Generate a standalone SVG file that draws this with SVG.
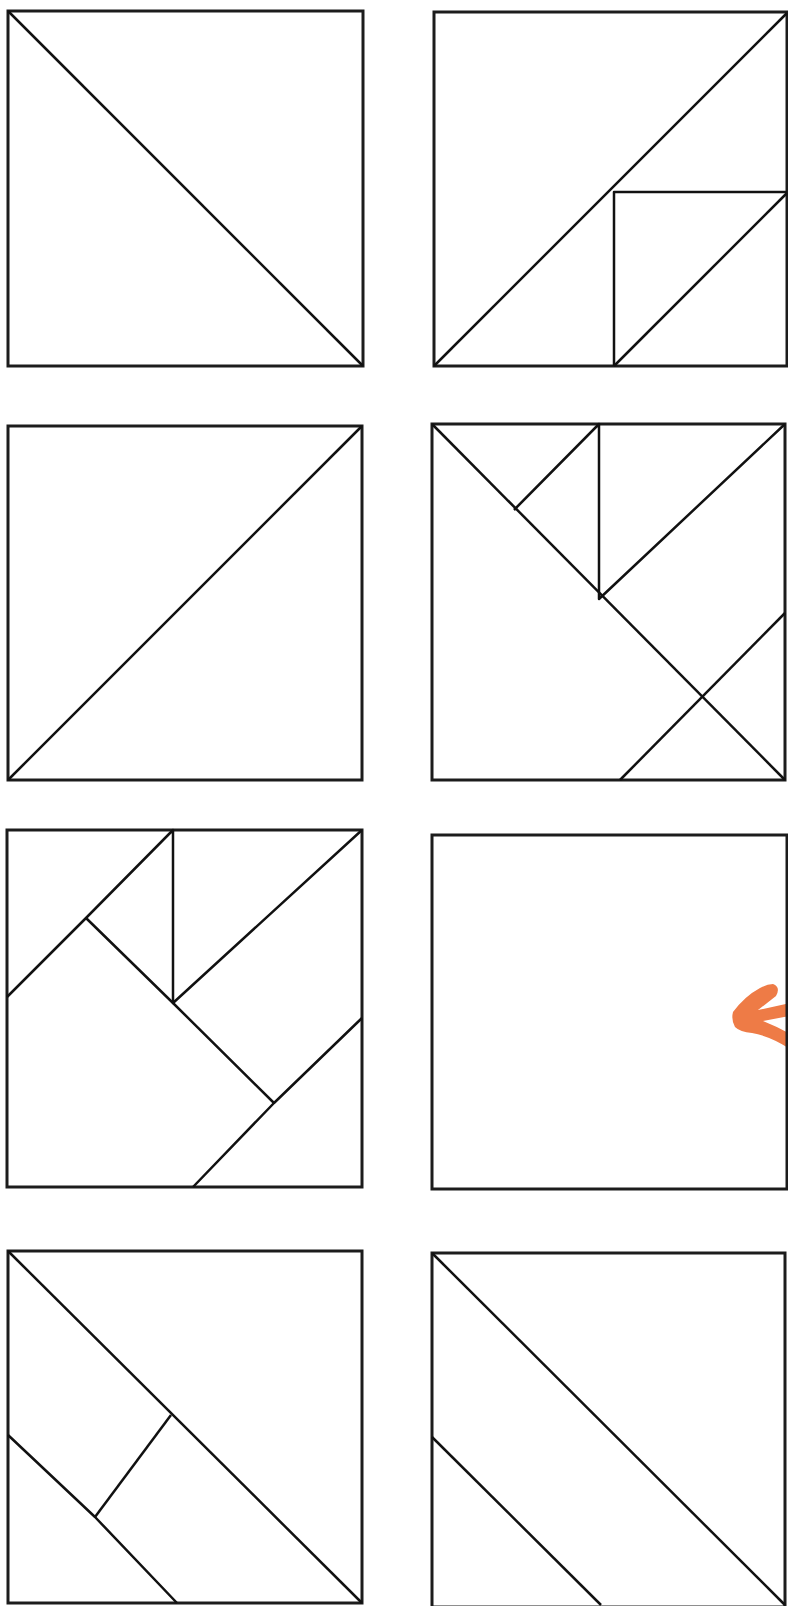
<svg xmlns="http://www.w3.org/2000/svg" width="788" height="1606" viewBox="0 0 788 1606">
<style>
.frame{fill:none;stroke:#1c1c1c;stroke-width:3}
.ln{fill:none;stroke:#111;stroke-width:2.5;stroke-linejoin:round}
.arrow{fill:#EE7B46;stroke:none}
</style>
<rect width="788" height="1606" fill="#fff"/>
<g id="sq1">
<rect class="frame" x="8" y="11" width="355" height="355"/>
<path class="ln" d="M8 11 L363 366"/>
</g>
<g id="sq2">
<rect class="frame" x="434" y="12" width="353" height="354"/>
<path class="ln" d="M434 366 L787 13"/>
<path class="ln" d="M614 366 L614 192 L787 192"/>
<path class="ln" d="M614 366 L787 193"/>
</g>
<g id="sq3">
<rect class="frame" x="8" y="426" width="354" height="354"/>
<path class="ln" d="M8 780 L362 426"/>
</g>
<g id="sq4">
<rect class="frame" x="432" y="424" width="353" height="356"/>
<path class="ln" d="M432 424 L785 780"/>
<path class="ln" d="M514 510 L599 424 L599 599 L785 424"/>
<path class="ln" d="M620 780 L785 613"/>
</g>
<g id="sq5">
<rect class="frame" x="7" y="830" width="355" height="357"/>
<path class="ln" d="M7 997 L86 918 L173 830 L173 1003 L362 830"/>
<path class="ln" d="M86 918 L173 1003 L274 1103"/>
<path class="ln" d="M193 1187 L274 1103 L362 1018"/>
</g>
<g id="sq6">
<path class="arrow" d="M773 984 Q781 987 776 996 L758 1010 L790 1003 L790 1016 L763 1021 Q778 1027 790 1034 L790 1049 Q770 1036 752 1033 Q740 1032 735 1027 Q731 1020 733 1012 Q745 996 760 988 Q767 984 773 984 Z"/>
<rect class="frame" x="432" y="835" width="355" height="354"/>
</g>
<g id="sq7">
<rect class="frame" x="8" y="1251" width="354" height="352"/>
<path class="ln" d="M8 1251 L362 1603"/>
<path class="ln" d="M8 1435 L95 1517 L177 1603"/>
<path class="ln" d="M95 1517 L171 1415"/>
</g>
<g id="sq8">
<rect class="frame" x="432" y="1253" width="353" height="354"/>
<path class="ln" d="M432 1253 L785 1605"/>
<path class="ln" d="M432 1437 L601 1605"/>
</g>
</svg>
